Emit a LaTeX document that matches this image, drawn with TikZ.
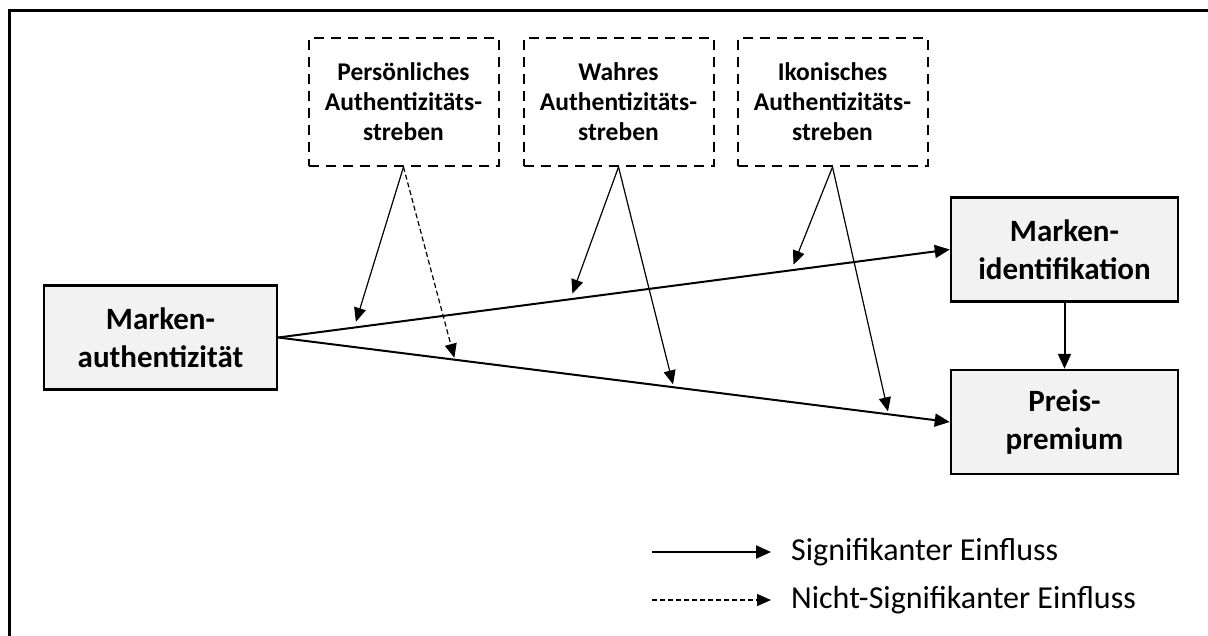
\documentclass[tikz,border=0pt]{standalone}
\usepackage{fontspec}
\setmainfont{Carlito}
\usetikzlibrary{arrows.meta}
\usetikzlibrary{positioning}
\definecolor{boxgray}{HTML}{F2F2F2}
\tikzset{konstrukt/.style = {draw, line width=2.5pt, fill=boxgray, align=center, inner sep=0,
    font=\bfseries\fontsize{31}{38}\selectfont, minimum width=230pt, minimum height=104pt}}
\tikzset{moderator/.style = {draw, dash pattern=on 10pt off 7pt, line width=2pt, align=center, inner sep=0,
    font=\bfseries\fontsize{25.5}{30}\selectfont, minimum width=190pt, minimum height=128pt}}
\tikzset{pfad/.style = {line width=2pt, -{Triangle[length=15pt,width=13pt]}}}
\tikzset{effekt/.style = {line width=1.2pt, -{Triangle[length=14pt,width=12pt]}}}
\tikzset{legende/.style = {anchor=west, inner sep=0, font=\fontsize{32}{38}\selectfont}}

\begin{document}
\begin{tikzpicture}[x=1pt, y=-1pt]
    \useasboundingbox (0, 0) rectangle (1208, 635);
    \draw [line width=2.7pt] (9.7, 660) |- (1230, 10.3);

    % Konstrukte
    \node [konstrukt, minimum width=233pt] (authent) at (160.5, 337.5) {Marken-\\authentizität};
    \node [konstrukt, minimum width=227pt] (ident) at (1064.5, 249.5) {Marken-\\identifikation};
    \node [konstrukt, minimum width=227pt] (preis) [below=66pt of ident] {Preis-\\premium};

    % Moderatoren
    \node [moderator] (pers) at (403.5, 102) {Persönliches\\Authentizitäts-\\streben};
    \node [moderator] (wahr) [right=23pt of pers] {Wahres\\Authentizitäts-\\streben};
    \node [moderator] (ikon) [right=22pt of wahr] {Ikonisches\\Authentizitäts-\\streben};

    % Hauptpfade
    \draw [pfad] (authent.east) --
      coordinate [pos=0.113] (o1) coordinate [pos=0.435] (o2) coordinate [pos=0.764] (o3)
      (ident.west);
    \draw [pfad] (authent.east) --
      coordinate [pos=0.263] (u1) coordinate [pos=0.589] (u2) coordinate [pos=0.909] (u3)
      (preis.west);
    \draw [pfad] (ident.south) -- (preis.north);

    % Moderationseffekte
    \draw [effekt, shorten >=6pt] (pers.south) -- (o1);
    \draw [effekt, shorten >=2pt, dash pattern=on 5pt off 3pt] (pers.south) -- (u1);
    \draw [effekt, shorten >=6pt] (wahr.south) -- (o2);
    \draw [effekt, shorten >=3pt] (wahr.south) -- (u2);
    \draw [effekt, shorten >=6pt] (ikon.south) -- (o3);
    \draw [effekt, shorten >=3pt] (ikon.south) -- (u3);

    % Legende
    \node [legende] (sig) at (791, 552) {Signifikanter Einfluss};
    \node [legende] (nsig) at (791, 600) {Nicht-Signifikanter Einfluss};
    \coordinate (sig0) at (652, 552);
    \coordinate (nsig0) at (652, 600);
    \draw [pfad] (sig0) -- ([xshift=-20pt]sig.west);
    \draw [effekt, dash pattern=on 5pt off 3pt] (nsig0) -- ([xshift=-20pt]nsig.west);
\end{tikzpicture}
\end{document}
